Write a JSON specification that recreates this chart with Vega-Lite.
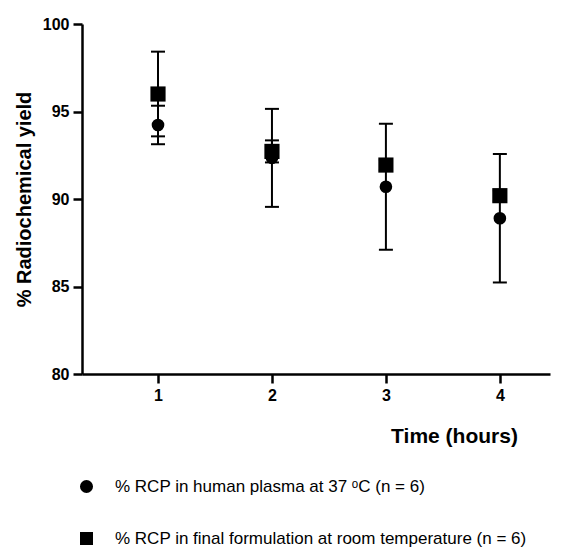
{
  "$schema": "https://vega.github.io/schema/vega-lite/v6.json",
  "width": 468,
  "height": 350,
  "autosize": {"type": "none"},
  "padding": {"left": 82, "top": 24, "right": 23, "bottom": 173},
  "data": {"values": [
    {"time": 1, "series": "plasma", "mean": 94.23, "lo": 93.13, "hi": 95.33},
    {"time": 2, "series": "plasma", "mean": 92.35, "lo": 89.55, "hi": 95.15},
    {"time": 3, "series": "plasma", "mean": 90.7, "lo": 87.1, "hi": 94.3},
    {"time": 4, "series": "plasma", "mean": 88.9, "lo": 85.23, "hi": 92.57},
    {"time": 1, "series": "formulation", "mean": 96.0, "lo": 93.58, "hi": 98.42},
    {"time": 2, "series": "formulation", "mean": 92.72, "lo": 92.09, "hi": 93.35},
    {"time": 3, "series": "formulation", "mean": 91.94, "lo": 91.64, "hi": 92.24},
    {"time": 4, "series": "formulation", "mean": 90.19, "lo": 89.89, "hi": 90.49}
  ]},
  "config": {
    "view": {"stroke": null},
    "font": "Liberation Sans",
    "axis": {
      "grid": false,
      "domainColor": "black",
      "domainWidth": 2.5,
      "tickColor": "black",
      "tickWidth": 2.5,
      "tickSize": 9,
      "labelColor": "black",
      "labelFont": "Liberation Sans",
      "labelFontWeight": "bold",
      "labelFontSize": 16,
      "titleColor": "black",
      "titleFont": "Liberation Sans",
      "titleFontWeight": "bold",
      "titleFontSize": 21
    }
  },
  "encoding": {
    "x": {
      "field": "time",
      "type": "quantitative",
      "scale": {"domain": [0.333, 4.44], "nice": false, "zero": false},
      "axis": {
        "values": [1, 2, 3, 4],
        "format": "d",
        "title": "Time (hours)",
        "labelPadding": 4,
        "titleAnchor": "start",
        "titleAlign": "center",
        "titleX": 372,
        "titleY": 68,
        "titleBaseline": "alphabetic"
      }
    },
    "y": {
      "type": "quantitative",
      "scale": {"domain": [80, 100], "nice": false, "zero": false},
      "title": "% Radiochemical yield",
      "axis": {"values": [80, 85, 90, 95, 100], "labelPadding": 4, "titlePadding": 8, "titleFontSize": 20}
    }
  },
  "layer": [
    {
      "mark": {"type": "rule", "color": "black", "strokeWidth": 2},
      "encoding": {
        "y": {"field": "lo", "type": "quantitative", "title": "% Radiochemical yield"},
        "y2": {"field": "hi"}
      }
    },
    {
      "mark": {"type": "tick", "orient": "horizontal", "color": "black", "thickness": 2, "size": 14, "opacity": 1},
      "encoding": {"y": {"field": "lo", "type": "quantitative", "title": "% Radiochemical yield"}}
    },
    {
      "mark": {"type": "tick", "orient": "horizontal", "color": "black", "thickness": 2, "size": 14, "opacity": 1},
      "encoding": {"y": {"field": "hi", "type": "quantitative", "title": "% Radiochemical yield"}}
    },
    {
      "transform": [{"filter": "datum.series == 'plasma'"}],
      "mark": {"type": "point", "filled": true, "color": "black", "opacity": 1, "size": 160},
      "encoding": {
        "y": {"field": "mean", "type": "quantitative", "title": "% Radiochemical yield"},
        "shape": {
          "field": "series",
          "type": "nominal",
          "scale": {"domain": ["plasma", "formulation"], "range": ["circle", "square"]},
          "legend": {
            "orient": "none",
            "legendX": -4,
            "legendY": 454,
            "title": null,
            "padding": 0,
            "labelExpr": "datum.value == 'plasma' ? '% RCP in human plasma at 37 ᵒC (n = 6)' : '% RCP in final formulation at room temperature (n = 6)'",
            "labelFont": "Liberation Sans",
            "labelFontSize": 17,
            "labelColor": "black",
            "labelOffset": 20,
            "labelLimit": 600,
            "rowPadding": 34,
            "symbolSize": 170,
            "symbolFillColor": "black",
            "symbolStrokeColor": "black",
            "symbolOpacity": 1,
            "symbolStrokeWidth": 0
          }
        }
      }
    },
    {
      "transform": [{"filter": "datum.series == 'formulation'"}],
      "mark": {"type": "point", "filled": true, "color": "black", "opacity": 1, "size": 230},
      "encoding": {
        "y": {"field": "mean", "type": "quantitative", "title": "% Radiochemical yield"},
        "shape": {
          "field": "series",
          "type": "nominal",
          "scale": {"domain": ["plasma", "formulation"], "range": ["circle", "square"]}
        }
      }
    }
  ]
}
